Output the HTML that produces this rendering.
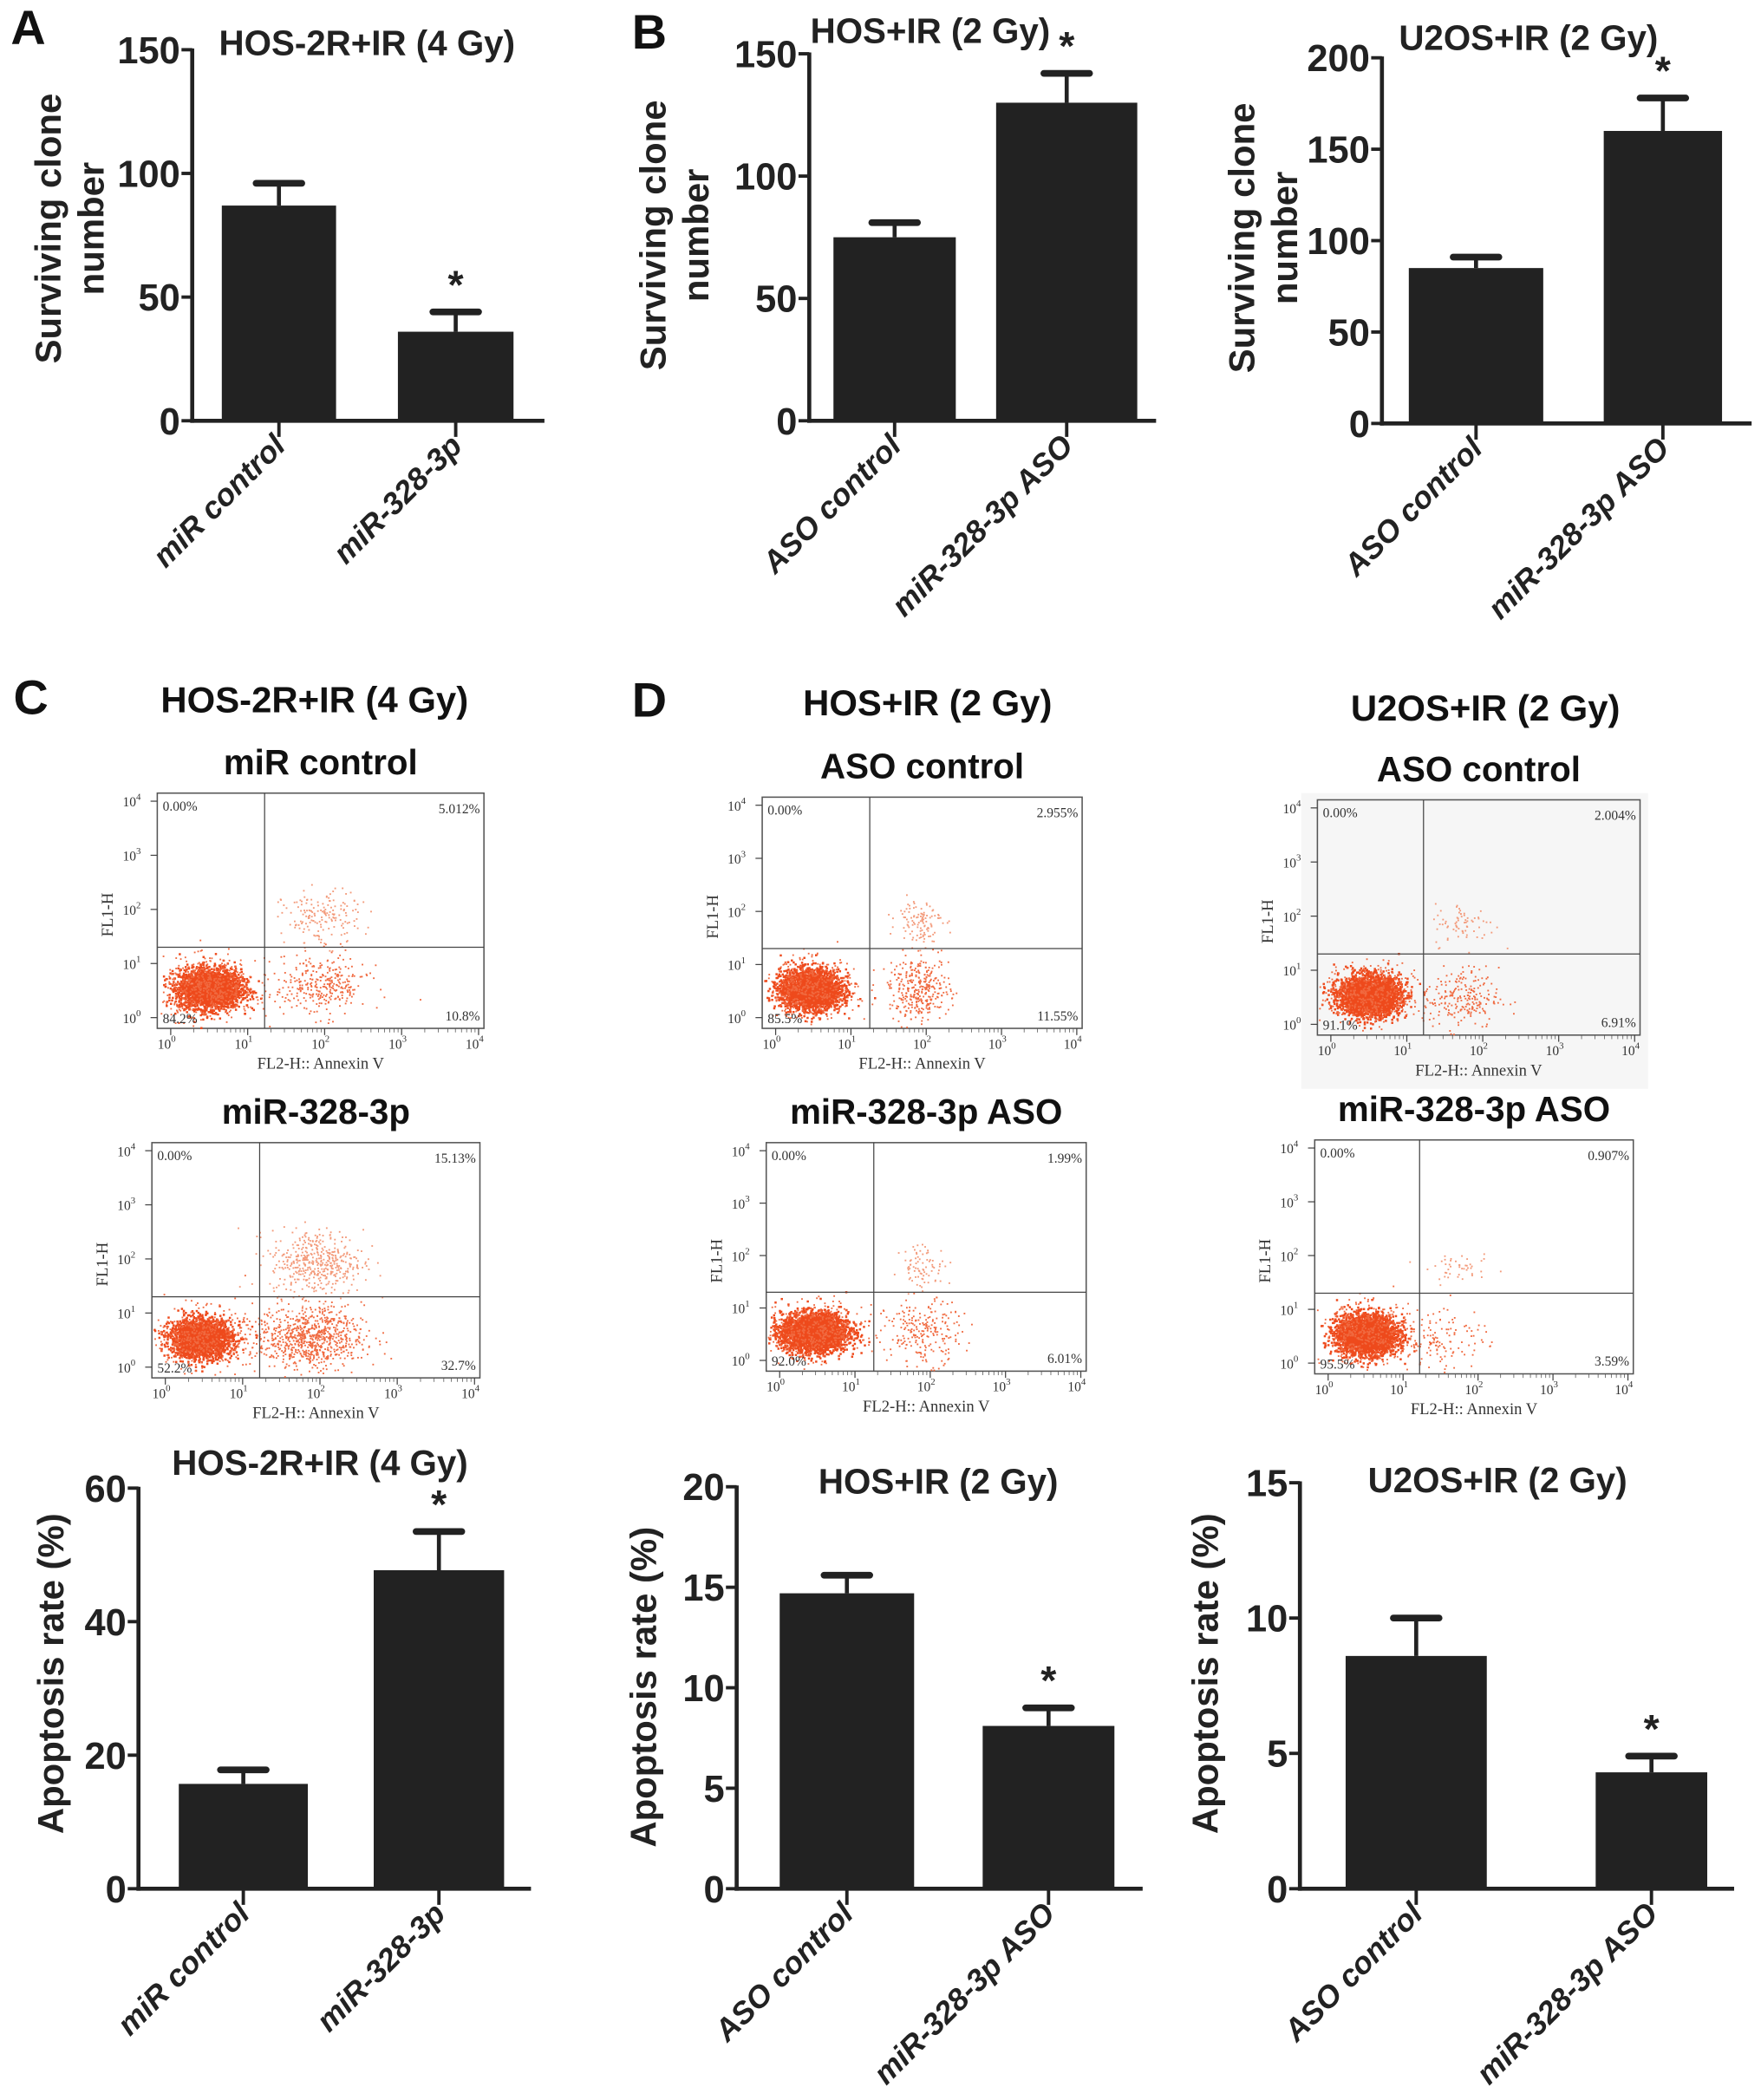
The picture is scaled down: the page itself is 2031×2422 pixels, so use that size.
<!DOCTYPE html>
<html><head><meta charset="utf-8"><style>
html,body{margin:0;padding:0;background:#fff;}
svg{display:block;}
.t{font-family:"Liberation Sans Narrow","Liberation Sans",sans-serif;font-weight:bold;}
.b{font-family:"Liberation Sans",sans-serif;font-weight:bold;}
.s{font-family:"Liberation Serif",serif;}
</style></head><body>
<svg id="fig" width="2031" height="2422" viewBox="0 0 2031 2422" xmlns="http://www.w3.org/2000/svg">
<g id="root" transform="scale(1.5504)"></g>
</svg>
<script>
// ---- data (bar charts) ----
const catsMiR = ["miR control", "miR-328-3p"];
const catsASO = ["ASO control", "miR-328-3p ASO"];
const cloneA = [87, 36];
const cloneAErr = [96, 44];
const cloneB1 = [75, 130];
const cloneB1Err = [81, 142];
const cloneB2 = [85, 160];
const cloneB2Err = [91, 178];
const apopC = [15.7, 47.7];
const apopCErr = [17.8, 53.5];
const apopD1 = [14.7, 8.1];
const apopD1Err = [15.6, 9.0];
const apopD2 = [8.6, 4.3];
const apopD2Err = [10.0, 4.9];
const ticksA = [0, 50, 100, 150];
const ticksB2 = [0, 50, 100, 150, 200];
const ticksC = [0, 20, 40, 60];
const ticksD1 = [0, 5, 10, 15, 20];
const ticksD2 = [0, 5, 10, 15];
// flow percentages [UL, UR, LL, LR]
const flowCtop = ["0.00%", "5.012%", "84.2%", "10.8%"];
const flowCbot = ["0.00%", "15.13%", "52.2%", "32.7%"];
const flowD1top = ["0.00%", "2.955%", "85.5%", "11.55%"];
const flowD1bot = ["0.00%", "1.99%", "92.0%", "6.01%"];
const flowD2top = ["0.00%", "2.004%", "91.1%", "6.91%"];
const flowD2bot = ["0.00%", "0.907%", "95.5%", "3.59%"];

const NS = "http://www.w3.org/2000/svg";
const root = document.getElementById("root");
function el(tag, attrs, parent, text) {
  const e = document.createElementNS(NS, tag);
  for (const k in attrs) e.setAttribute(k, attrs[k]);
  if (text !== undefined) e.textContent = text;
  (parent || root).appendChild(e);
  return e;
}

function barChart(o) {
  const g = el("g", {});
  
  
  const maxV = o.ticks[o.ticks.length - 1];
  const y = v => o.y0 - v / maxV * (o.y0 - o.yTop);
  o.values.forEach((v, i) => {
    const [x1, x2] = o.bars[i];
    const cx = (x1 + x2) / 2;
    const eb = el("line", {x1: cx, x2: cx, y1: y(v), y2: y(o.errors[i]), stroke: "#222", "stroke-width": 3}, g);
    
    
    const cap = el("line", {x1: cx - 17, x2: cx + 17, y1: y(o.errors[i]), y2: y(o.errors[i]), stroke: "#222", "stroke-width": 5, "stroke-linecap": "round"}, g);
    
    
    const r = el("rect", {x: x1, y: y(v), width: x2 - x1, height: o.y0 - y(v), fill: "#222"}, g);
    
    
    if (o.star === i) {
      const st = el("text", {x: cx, y: y(o.errors[i]) - 10, "text-anchor": "middle", "font-size": 30, class: "b", fill: "#222"}, g, "*");
      
      
    }
    el("line", {x1: cx, x2: cx, y1: o.y0, y2: o.y0 + 12, stroke: "#222", "stroke-width": 2.5}, g);
    const lab = el("text", {transform: `translate(${cx + 6},${o.y0 + 20}) rotate(-45)`, "text-anchor": "end", "font-size": 23, class: "b", "font-style": "italic", fill: "#222"}, g, o.cats[i]);
    
    
  });
  const ya = el("line", {x1: o.ax, x2: o.ax, y1: o.yTop - 1, y2: o.y0 + 1.5, stroke: "#222", "stroke-width": 3}, g);
  
  
  const xa = el("line", {x1: o.ax - 1.5, x2: o.xEnd, y1: o.y0, y2: o.y0, stroke: "#222", "stroke-width": 3}, g);
  
  
  o.ticks.forEach(t => {
    el("line", {x1: o.ax - 8, x2: o.ax, y1: y(t), y2: y(t), stroke: "#222", "stroke-width": 2.5}, g);
    const tl = el("text", {x: o.ax - 9, y: y(t) + 10, "text-anchor": "end", "font-size": 28, class: "b", fill: "#222"}, g, t);
    
    
  });
  const ti = el("text", {x: o.titleX, y: o.titleY, "text-anchor": "middle", "font-size": 26, class: "t", fill: "#222"}, g, o.title);
  
  
  o.ylab.forEach((l, i) => {
    const yl = el("text", {transform: `translate(${o.ylabX + i * 32},${o.ylabY}) rotate(-90)`, "text-anchor": "middle", "font-size": 27, class: "b", fill: "#222"}, g, l);
    
    
  });
}

barChart({name: "chart-a", cats: catsMiR, values: cloneA, errors: cloneAErr, ticks: ticksA, ax: 143, y0: 313, yTop: 37, xEnd: 405,
  bars: [[165, 250], [296, 382]], star: 1, title: "HOS-2R+IR (4 Gy)", titleX: 273, titleY: 41, ylab: ["Surviving clone", "number"], ylabX: 45, ylabY: 170});
barChart({name: "chart-b-hos", cats: catsASO, values: cloneB1, errors: cloneB1Err, ticks: ticksA, ax: 602, y0: 313, yTop: 40, xEnd: 860,
  bars: [[620, 711], [741, 846]], star: 1, title: "HOS+IR (2 Gy)", titleX: 692, titleY: 32, ylab: ["Surviving clone", "number"], ylabX: 495, ylabY: 175});
barChart({name: "chart-b-u2os", cats: catsASO, values: cloneB2, errors: cloneB2Err, ticks: ticksB2, ax: 1028, y0: 315, yTop: 43, xEnd: 1303,
  bars: [[1048, 1148], [1193, 1281]], star: 1, title: "U2OS+IR (2 Gy)", titleX: 1137, titleY: 37, ylab: ["Surviving clone", "number"], ylabX: 933, ylabY: 177});
barChart({name: "chart-c-apoptosis", cats: catsMiR, values: apopC, errors: apopCErr, ticks: ticksC, ax: 103, y0: 1405, yTop: 1107, xEnd: 395,
  bars: [[133, 229], [278, 375]], star: 1, title: "HOS-2R+IR (4 Gy)", titleX: 238, titleY: 1097, ylab: ["Apoptosis rate (%)"], ylabX: 47, ylabY: 1245});
barChart({name: "chart-d-hos-apoptosis", cats: catsASO, values: apopD1, errors: apopD1Err, ticks: ticksD1, ax: 548, y0: 1405, yTop: 1106, xEnd: 850,
  bars: [[580, 680], [731, 829]], star: 1, title: "HOS+IR (2 Gy)", titleX: 698, titleY: 1111, ylab: ["Apoptosis rate (%)"], ylabX: 488, ylabY: 1255});
barChart({name: "chart-d-u2os-apoptosis", cats: catsASO, values: apopD2, errors: apopD2Err, ticks: ticksD2, ax: 967, y0: 1405, yTop: 1103, xEnd: 1290,
  bars: [[1001, 1106], [1187, 1270]], star: 1, title: "U2OS+IR (2 Gy)", titleX: 1114, titleY: 1110, ylab: ["Apoptosis rate (%)"], ylabX: 906, ylabY: 1245});

[["A", 8, 33], ["B", 470, 36], ["C", 10, 531], ["D", 470, 533]].forEach(([t, x, yy]) => {
  const e = el("text", {x: x, y: yy, "font-size": 36, class: "b", fill: "#111"}, root, t);
  
  
});
[["HOS-2R+IR (4 Gy)", 234, 530], ["HOS+IR (2 Gy)", 690, 532], ["U2OS+IR (2 Gy)", 1105, 536]].forEach(([t, x, yy]) => {
  const e = el("text", {x: x, y: yy, "text-anchor": "middle", "font-size": 27, class: "t", fill: "#111"}, root, t);
  
  
});

// ---- flow cytometry plots ----
let seed = 12345;
function rnd() { seed = (seed * 1103515245 + 12345) % 2147483648; return seed / 2147483648; }
function gauss() { let u = rnd() || 1e-6, v = rnd(); return Math.sqrt(-2 * Math.log(u)) * Math.cos(2 * Math.PI * v); }

function flow(o) {
  const g = el("g", {});
  
  
  const [L, T, R, B] = o.box;
  if (o.bg) el("rect", {x: L - 12, y: T - 5, width: R - L + 18, height: B - T + 45, fill: "#f6f6f6"}, g);
  const fx = d => L + 10 + d * (R - L - 14) / 4;
  const fy = d => B - 8 - d * (B - T - 14) / 4;
  const box = el("rect", {x: L, y: T, width: R - L, height: B - T, fill: o.bg ? "#f6f6f6" : "#fff", stroke: "#555", "stroke-width": 1}, g);
  
  
  const ttl = el("text", {x: (L + R) / 2, y: T - 14, "text-anchor": "middle", "font-size": 26, class: "t", fill: "#111"}, g, o.title);
  
  
  o.clusters.forEach(c => {
    const sz = c[5] === "#ee4a1c" ? 1.6 : 1.2;
    for (let i = 0; i < c[0]; i++) {
      const dx = c[1] + gauss() * c[3], dy = c[2] + gauss() * c[4];
      const px = fx(dx), py = fy(dy);
      if (px < L + 1 || px > R - 1 || py < T + 1 || py > B - 1) continue;
      el("rect", {x: px, y: py, width: sz, height: sz, fill: c[5]}, g);
    }
  });
  el("line", {x1: fx(o.q[0]), x2: fx(o.q[0]), y1: T, y2: B, stroke: "#444", "stroke-width": 0.8}, g);
  el("line", {x1: L, x2: R, y1: fy(o.q[1]), y2: fy(o.q[1]), stroke: "#444", "stroke-width": 0.8}, g);
  for (let d = 0; d <= 4; d++) {
    el("line", {x1: fx(d), x2: fx(d), y1: B, y2: B + 5, stroke: "#444", "stroke-width": 0.8}, g);
    el("line", {x1: L - 5, x2: L, y1: fy(d), y2: fy(d), stroke: "#444", "stroke-width": 0.8}, g);
    const tx = el("text", {x: fx(d) - 3, y: B + 15, "font-size": 10, class: "s", fill: "#333", "text-anchor": "middle"}, g, "10");
    el("tspan", {dy: -5, "font-size": 7}, tx, d);
    const ty = el("text", {x: L - 19, y: fy(d) + 4, "font-size": 10, class: "s", fill: "#333", "text-anchor": "middle"}, g, "10");
    el("tspan", {dy: -5, "font-size": 7}, ty, d);
    for (let m = 2; m <= 9 && d < 4; m++) {
      const xx = fx(d + Math.log10(m));
      el("line", {x1: xx, x2: xx, y1: B, y2: B + 3, stroke: "#555", "stroke-width": 0.5}, g);
    }
  }
  const xl = el("text", {x: (L + R) / 2, y: B + 30, "text-anchor": "middle", "font-size": 12, class: "s", fill: "#333"}, g, "FL2-H:: Annexin V");
  
  
  const yl = el("text", {transform: `translate(${L - 33},${(T + B) / 2 + 3}) rotate(-90)`, "text-anchor": "middle", "font-size": 12, class: "s", fill: "#333"}, g, "FL1-H");
  
  
  const p = o.pct;
  [[L + 4, T + 13, "start", p[0]], [R - 3, T + 15, "end", p[1]], [L + 4, B - 4, "start", p[2]], [R - 3, B - 6, "end", p[3]]].forEach(a => {
    const t = el("text", {x: a[0], y: a[1], "text-anchor": a[2], "font-size": 10, class: "s", fill: "#333"}, g, a[3]);
    
    
  });
}
const dense = "#ee4a1c", mid = "#f06a40", light = "#f39a7a";
flow({name: "flow-c-mir-control", box: [117, 590, 360, 765], q: [1.22, 1.3], pct: flowCtop, title: "miR control",
  clusters: [[2600, 0.5, 0.55, 0.2, 0.18, dense], [500, 0.5, 0.55, 0.3, 0.27, mid], [320, 1.95, 0.6, 0.3, 0.28, mid], [170, 1.95, 1.85, 0.25, 0.25, light]]});
flow({name: "flow-c-mir-328", box: [113, 850, 357, 1025], q: [1.22, 1.3], pct: flowCbot, title: "miR-328-3p",
  clusters: [[2000, 0.45, 0.55, 0.2, 0.18, dense], [400, 0.45, 0.55, 0.3, 0.27, mid], [800, 1.85, 0.55, 0.35, 0.28, mid], [450, 1.95, 1.95, 0.3, 0.3, light]]});
flow({name: "flow-d-hos-aso-control", box: [567, 593, 805, 765], q: [1.25, 1.3], pct: flowD1top, title: "ASO control",
  clusters: [[2600, 0.45, 0.55, 0.2, 0.18, dense], [400, 0.45, 0.55, 0.3, 0.27, mid], [340, 1.9, 0.55, 0.2, 0.3, mid], [110, 1.9, 1.85, 0.15, 0.2, light]]});
flow({name: "flow-d-hos-aso-328", box: [570, 850, 808, 1020], q: [1.25, 1.3], pct: flowD1bot, title: "miR-328-3p ASO",
  clusters: [[2800, 0.45, 0.55, 0.22, 0.18, dense], [400, 0.45, 0.55, 0.32, 0.25, mid], [230, 1.9, 0.55, 0.25, 0.3, mid], [80, 1.9, 1.8, 0.15, 0.22, light]]});
flow({name: "flow-d-u2os-aso-control", box: [980, 595, 1220, 770], q: [1.22, 1.3], pct: flowD2top, title: "ASO control", bg: true,
  clusters: [[2600, 0.5, 0.55, 0.2, 0.18, dense], [400, 0.5, 0.55, 0.3, 0.27, mid], [230, 1.7, 0.5, 0.25, 0.28, mid], [70, 1.75, 1.85, 0.2, 0.2, light]]});
flow({name: "flow-d-u2os-aso-328", box: [978, 848, 1215, 1022], q: [1.22, 1.3], pct: flowD2bot, title: "miR-328-3p ASO",
  clusters: [[2800, 0.5, 0.55, 0.2, 0.18, dense], [400, 0.5, 0.55, 0.3, 0.27, mid], [130, 1.5, 0.5, 0.3, 0.3, mid], [45, 1.75, 1.75, 0.22, 0.12, light]]});
</script>
</body></html>
